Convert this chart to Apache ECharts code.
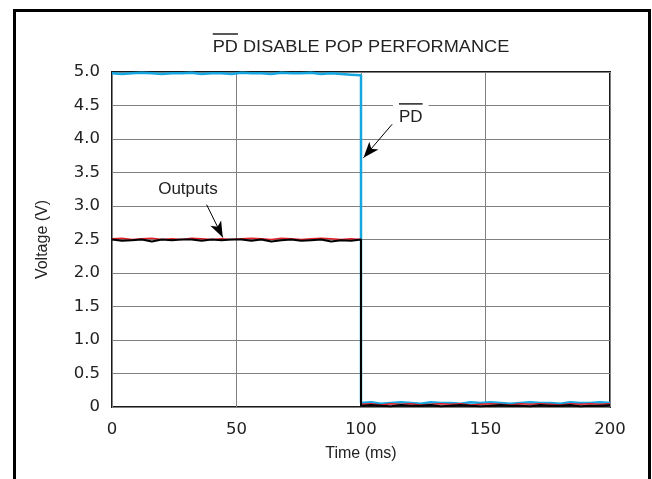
<!DOCTYPE html>
<html><head><meta charset="utf-8">
<script src="https://cdn.jsdelivr.net/npm/echarts@6/dist/echarts.min.js"></script>
<style>html,body{margin:0;padding:0;background:#fff}#c{width:652px;height:479px}</style>
</head><body><div id="c"></div>
<script>
// time samples (ms): 0..96 step 4, drop at 100, 104..200 step 4
var timeMs = [0,4,8,12,16,20,24,28,32,36,40,44,48,52,56,60,64,68,72,76,80,84,88,92,96,100,
              100,104,108,112,116,120,124,128,132,136,140,144,148,152,156,160,164,168,172,176,180,184,188,192,196,200];
var pdVolts = [4.98,4.97,4.98,4.99,4.98,4.97,4.98,4.98,4.99,4.97,4.98,4.98,4.97,4.99,4.98,4.98,4.97,4.99,4.98,4.98,4.99,4.97,4.98,4.97,4.96,4.95,
               0.06,0.07,0.05,0.06,0.07,0.06,0.05,0.07,0.06,0.06,0.05,0.07,0.06,0.07,0.06,0.05,0.06,0.07,0.06,0.06,0.05,0.07,0.06,0.06,0.07,0.06];
var outRedVolts = [2.51,2.52,2.50,2.51,2.52,2.50,2.51,2.50,2.52,2.51,2.50,2.51,2.50,2.51,2.52,2.51,2.50,2.52,2.51,2.50,2.51,2.52,2.51,2.50,2.51,2.50,
                   0.04,0.05,0.03,0.05,0.04,0.05,0.03,0.04,0.05,0.04,0.05,0.03,0.04,0.05,0.04,0.03,0.05,0.04,0.05,0.04,0.03,0.05,0.04,0.05,0.04,0.05];
var outBlackVolts = [2.50,2.48,2.49,2.50,2.47,2.50,2.49,2.50,2.50,2.48,2.50,2.49,2.50,2.50,2.48,2.50,2.47,2.49,2.50,2.48,2.49,2.50,2.47,2.49,2.48,2.50,
                     0.02,0.03,0.02,0.01,0.03,0.02,0.02,0.03,0.01,0.02,0.03,0.02,0.01,0.02,0.03,0.02,0.02,0.01,0.03,0.02,0.02,0.03,0.01,0.02,0.02,0.03];
var titleText = 'PD DISABLE POP PERFORMANCE';
var xName = 'Time (ms)', yName = 'Voltage (V)';
// annotations in data space
var outputsLabel = {text:'Outputs', at:[30.5,3.25], arrowFrom:[38,3.02], arrowTo:[44.5,2.53]};
var pdLabel = {text:'PD', at:[120,4.33], arrowFrom:[112.5,4.22], arrowTo:[101.0,3.72]};

function pairs(v){ return timeMs.map(function(t,i){return [t,v[i]];}); }
var AR = '"Liberation Sans", Arial, sans-serif';
var DV = '"DejaVu Sans", sans-serif';
var chart = echarts.init(document.getElementById('c'), null, {renderer:'canvas'});
chart.setOption({
  animation:false,
  backgroundColor:'#fff',
  grid:{left:112, right:42, top:72, bottom:72, show:true, borderColor:'#1a1a1a', borderWidth:2, backgroundColor:'transparent'},
  xAxis:{type:'value', min:0, max:200, interval:50, name:xName, nameLocation:'middle', nameGap:39,
    nameTextStyle:{fontFamily:AR, fontSize:16, color:'#222'},
    axisLine:{show:false}, axisTick:{show:false},
    axisLabel:{fontFamily:DV, fontSize:16.5, color:'#222', margin:14},
    splitLine:{lineStyle:{color:'#808080', width:1}}},
  yAxis:{type:'value', min:0, max:5, interval:0.5, name:yName, nameLocation:'middle', nameGap:61,
    nameTextStyle:{fontFamily:AR, fontSize:16, color:'#222'},
    axisLine:{show:false}, axisTick:{show:false},
    axisLabel:{fontFamily:DV, fontSize:16.5, color:'#222', margin:12,
      formatter:function(v){return v===0?'0':v.toFixed(1);}},
    splitLine:{lineStyle:{color:'#808080', width:1}}},
  series:[
    {type:'line', name:'PD', data:pairs(pdVolts), showSymbol:false, lineStyle:{color:'#16a6e0', width:2.5}, z:2},
    {type:'line', name:'OutR', data:pairs(outRedVolts), showSymbol:false, lineStyle:{color:'#e2202c', width:1.5}, z:3},
    {type:'line', name:'OutB', data:pairs(outBlackVolts), showSymbol:false, lineStyle:{color:'#000', width:2}, z:4,
      markLine:{silent:true, symbol:['none','arrow'], symbolSize:[9,16],
        lineStyle:{color:'#000', width:1, type:'solid'}, label:{show:false},
        data:[[{coord:outputsLabel.arrowFrom},{coord:outputsLabel.arrowTo}],
              [{coord:pdLabel.arrowFrom},{coord:pdLabel.arrowTo}]]}}
  ]
});
function px(c){ return chart.convertToPixel({gridIndex:0}, c); }
var tp = [361, 47], sx = 1.1, tfs = 16.5;
var op = px(outputsLabel.at), pp = px(pdLabel.at);
var ctx = document.createElement('canvas').getContext('2d');
ctx.font = tfs + 'px ' + AR;
var tw = ctx.measureText(titleText).width * sx, pdw = ctx.measureText('PD').width * sx;
ctx.font = '17px ' + AR;
var pdw2 = ctx.measureText(pdLabel.text).width;
chart.setOption({graphic:[
  {type:'rect', shape:{x:14.5, y:10.5, width:635, height:480}, style:{fill:'none', stroke:'#000', lineWidth:3}, z:100},
  {type:'text', x:tp[0], y:tp[1], scaleX:sx, style:{text:titleText, font:tfs+'px '+AR, fill:'#222', align:'center', verticalAlign:'middle'}, z:100},
  {type:'line', shape:{x1:tp[0]-tw/2, y1:tp[1]-13, x2:tp[0]-tw/2+pdw, y2:tp[1]-13}, style:{stroke:'#222', lineWidth:1.5}, z:100},
  {type:'text', x:op[0], y:op[1], style:{text:outputsLabel.text, font:'17px '+AR, fill:'#222', align:'center', verticalAlign:'middle', backgroundColor:'#fff', padding:[2,3]}, z:100},
  {type:'text', x:pp[0], y:pp[1], style:{text:pdLabel.text, font:'17px '+AR, fill:'#222', align:'center', verticalAlign:'middle', backgroundColor:'#fff', padding:[7,6,2,6]}, z:100},
  {type:'line', shape:{x1:pp[0]-pdw2/2, y1:pp[1]-13, x2:pp[0]+pdw2/2, y2:pp[1]-13}, style:{stroke:'#222', lineWidth:1.5}, z:101}
]});
</script></body></html>
